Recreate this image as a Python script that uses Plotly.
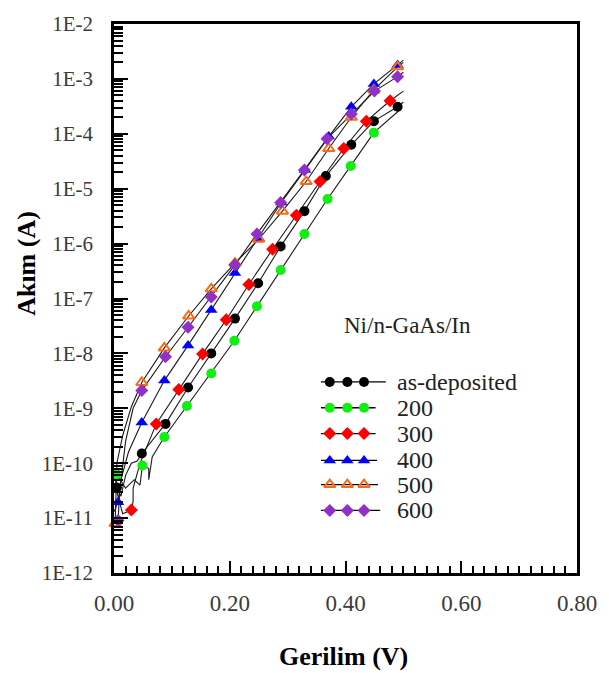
import plotly.graph_objects as go

# ---------------- data ----------------
series_names = ["as-deposited", "200", "300", "400", "500", "600"]

# marker points (V, A)
asdep_v = [0.005, 0.048, 0.089, 0.128, 0.168, 0.209, 0.249, 0.288, 0.329, 0.366, 0.410, 0.449, 0.490]
asdep_i = [3.6e-11, 1.5e-10, 5.2e-10, 2.4e-9, 1.0e-8, 4.3e-8, 1.9e-7, 8.9e-7, 3.9e-6, 1.7e-5, 6.3e-5, 1.7e-4, 3.1e-4]

t200_v = [0.005, 0.049, 0.087, 0.126, 0.168, 0.208, 0.247, 0.288, 0.329, 0.369, 0.409, 0.449]
t200_i = [6.3e-11, 9.1e-11, 3.0e-10, 1.1e-9, 4.3e-9, 1.7e-8, 7.2e-8, 3.3e-7, 1.5e-6, 6.5e-6, 2.6e-5, 1.05e-4]

t300_v = [0.030, 0.073, 0.112, 0.153, 0.194, 0.233, 0.274, 0.315, 0.356, 0.397, 0.436, 0.477]
t300_i = [1.4e-11, 5.2e-10, 2.2e-9, 9.8e-9, 4.1e-8, 1.8e-7, 7.9e-7, 3.3e-6, 1.35e-5, 5.4e-5, 1.7e-4, 4.0e-4]

t400_v = [0.007, 0.048, 0.087, 0.128, 0.168, 0.209, 0.250, 0.289, 0.330, 0.371, 0.410, 0.449, 0.490]
t400_i = [1.95e-11, 5.5e-10, 3.2e-9, 1.4e-8, 6.2e-8, 2.9e-7, 1.26e-6, 5.6e-6, 2.2e-5, 8.9e-5, 3.1e-4, 8.1e-4, 1.8e-3]

t500_v = [0.002, 0.048, 0.087, 0.129, 0.168, 0.209, 0.250, 0.291, 0.332, 0.371, 0.410, 0.449, 0.490]
t500_i = [8.0e-12, 2.95e-9, 1.26e-8, 4.8e-8, 1.5e-7, 4.4e-7, 1.2e-6, 3.9e-6, 1.35e-5, 5.4e-5, 2.0e-4, 6.3e-4, 1.66e-3]

t600_v = [0.007, 0.048, 0.089, 0.128, 0.168, 0.209, 0.247, 0.288, 0.329, 0.368, 0.410, 0.450, 0.490]
t600_i = [9.0e-12, 2.1e-9, 8.7e-9, 3.0e-8, 1.07e-7, 4.1e-7, 1.5e-6, 5.6e-6, 2.2e-5, 8.1e-5, 2.3e-4, 6.0e-4, 1.1e-3]

# extra line-only points (low-voltage noise and line ends)
asdep_line_low_v = [0.000, 0.012, 0.020, 0.030, 0.040]
asdep_line_low_i = [7.0e-11, 2.5e-11, 6.0e-11, 1.0e-10, 1.1e-10]
asdep_line_end_v = [0.500]
asdep_line_end_i = [3.8e-4]

t200_line_low_v = [0.020, 0.035, 0.045]
t200_line_low_i = [3.5e-11, 5.0e-11, 4.0e-11]
t200_line_mid_v = [0.060, 0.060, 0.066]
t200_line_mid_i = [8.0e-11, 5.0e-11, 1.3e-10]
t200_line_end_v = [0.495]
t200_line_end_i = [2.8e-4]

t300_line_low_v = [0.005, 0.015]
t300_line_low_i = [3.0e-11, 1.2e-11]
t300_line_mid_v = [0.033, 0.033, 0.045]
t300_line_mid_i = [2.0e-11, 3.5e-11, 1.0e-10]
t300_line_end_v = [0.500]
t300_line_end_i = [6.0e-4]

t400_line_low_v = [0.000, 0.012, 0.025]
t400_line_low_i = [1.3e-11, 5.0e-11, 1.6e-10]
t400_line_end_v = [0.500]
t400_line_end_i = [2.2e-3]

t500_line_low_v = [0.005, 0.015, 0.030]
t500_line_low_i = [1.0e-10, 3.2e-10, 1.07e-9]
t500_line_end_v = [0.500]
t500_line_end_i = [2.0e-3]

t600_line_low_v = [0.010, 0.020, 0.033]
t600_line_low_i = [3.2e-11, 2.5e-10, 1.0e-9]
t600_line_end_v = [0.500]
t600_line_end_i = [1.32e-3]

# axis ticks
x_tickvals = [0.0, 0.2, 0.4, 0.6, 0.8]
x_ticktext = ["0.00", "0.20", "0.40", "0.60", "0.80"]
y_exponents = list(range(-12, -1))
y_tickvals = [10.0 ** e for e in y_exponents]
y_ticktext = ["1E-%d" % (-e) for e in y_exponents]
y_minor = [k * 10.0 ** e for e in range(-12, -2) for k in range(2, 10)]

legend_title = "Ni/n-GaAs/In"

# ---------------- styles ----------------
FONT = "Liberation Serif, Times New Roman, serif"
styles = [
    dict(symbol="circle", color="#000000", size=10, line=dict(width=0)),
    dict(symbol="circle", color="#11EE11", size=10, line=dict(width=0)),
    dict(symbol="diamond", color="#FF0000", size=10, line=dict(width=0)),
    dict(symbol="triangle-up", color="#0000FF", size=11, line=dict(width=0)),
    dict(symbol="triangle-up-open", color="#FF6A10", size=10, line=dict(width=2, color="#FF6A10")),
    dict(symbol="diamond", color="#9030C8", size=10, line=dict(width=0)),
]

marker_sets = [
    (asdep_v, asdep_i), (t200_v, t200_i), (t300_v, t300_i),
    (t400_v, t400_i), (t500_v, t500_i), (t600_v, t600_i),
]


def merge(parts):
    pts = []
    for vs, ii in parts:
        pts.extend(zip(vs, ii))
    pts.sort(key=lambda p: p[0])
    return [p[0] for p in pts], [p[1] for p in pts]


line_sets = [
    merge([(asdep_line_low_v, asdep_line_low_i), (asdep_v, asdep_i), (asdep_line_end_v, asdep_line_end_i)]),
    merge([(t200_line_low_v, t200_line_low_i), (t200_v, t200_i), (t200_line_mid_v, t200_line_mid_i), (t200_line_end_v, t200_line_end_i)]),
    merge([(t300_line_low_v, t300_line_low_i), (t300_v, t300_i), (t300_line_mid_v, t300_line_mid_i), (t300_line_end_v, t300_line_end_i)]),
    merge([(t400_line_low_v, t400_line_low_i), (t400_v, t400_i), (t400_line_end_v, t400_line_end_i)]),
    merge([(t500_v[:1], t500_i[:1]), (t500_line_low_v, t500_line_low_i), (t500_v[1:], t500_i[1:]), (t500_line_end_v, t500_line_end_i)]),
    merge([(t600_v[:1], t600_i[:1]), (t600_line_low_v, t600_line_low_i), (t600_v[1:], t600_i[1:]), (t600_line_end_v, t600_line_end_i)]),
]

fig = go.Figure()

for (lv, li) in line_sets:
    fig.add_trace(go.Scatter(x=lv, y=li, mode="lines",
                             line=dict(color="#1a1a1a", width=1.1),
                             showlegend=False, hoverinfo="skip"))

for (mv, mi), st, name in zip(marker_sets, styles, series_names):
    fig.add_trace(go.Scatter(x=mv, y=mi, mode="markers", name=name,
                             marker=dict(symbol=st["symbol"], color=st["color"], size=st["size"],
                                         line=st["line"]),
                             cliponaxis=False, showlegend=False))

# ---------------- custom legend on a hidden overlay axis ----------------
leg_rows_y = [0.348, 0.301, 0.254, 0.205, 0.161, 0.114]
leg_mark_x = [0.466, 0.504, 0.540]
leg_line_x0 = 0.447
leg_line_x1 = [0.587, 0.565, 0.565, 0.568, 0.570, 0.575]
leg_text_x = 0.607

for k, (st, name) in enumerate(zip(styles, series_names)):
    yy = leg_rows_y[k]
    fig.add_trace(go.Scatter(x=[leg_line_x0, leg_line_x1[k]], y=[yy, yy], mode="lines",
                             line=dict(color="#000000", width=1.3),
                             xaxis="x2", yaxis="y2", showlegend=False, hoverinfo="skip"))
    fig.add_trace(go.Scatter(x=leg_mark_x, y=[yy] * 3, mode="markers",
                             marker=dict(symbol=st["symbol"], color=st["color"], size=st["size"],
                                         line=st["line"]),
                             xaxis="x2", yaxis="y2", showlegend=False, hoverinfo="skip"))
    fig.add_annotation(x=leg_text_x, y=yy, xref="paper", yref="paper", text=name,
                       showarrow=False, xanchor="left", yanchor="middle",
                       font=dict(family=FONT, size=24, color="#222222"))

fig.add_annotation(x=0.634, y=0.45, xref="paper", yref="paper", text=legend_title,
                   showarrow=False, xanchor="center", yanchor="middle",
                   font=dict(family=FONT, size=23, color="#222222"))

# axis titles
fig.add_annotation(x=-0.189, y=0.564, xref="paper", yref="paper", text="<b>Akım (A)</b>",
                   textangle=-90, showarrow=False, xanchor="center", yanchor="middle",
                   font=dict(family=FONT, size=26, color="#000000"))
fig.add_annotation(x=0.496, y=-0.152, xref="paper", yref="paper", text="<b>Gerilim (V)</b>",
                   showarrow=False, xanchor="center", yanchor="middle",
                   font=dict(family=FONT, size=26, color="#000000"))

fig.update_layout(
    width=609, height=673,
    margin=dict(l=114, r=25, t=22, b=100),
    paper_bgcolor="white", plot_bgcolor="white",
    font=dict(family=FONT, size=22, color="#333333"),
    showlegend=False,
    xaxis=dict(range=[0, 0.8], tickvals=x_tickvals, ticktext=x_ticktext,
               showgrid=False, zeroline=False, showline=True, linecolor="black", linewidth=2.5,
               mirror=True, ticks="inside", ticklen=12, tickwidth=2, tickcolor="black",
               ticklabelstandoff=8,
               minor=dict(dtick=0.02, ticks="inside", ticklen=7, tickwidth=1.6, tickcolor="black"),
               tickfont=dict(family=FONT, size=23, color="#3a3a3a")),
    yaxis=dict(type="log", range=[-12, -2], tickvals=y_tickvals, ticktext=y_ticktext,
               showgrid=False, zeroline=False, showline=True, linecolor="black", linewidth=2.5,
               mirror=True, ticks="inside", ticklen=14, tickwidth=2, tickcolor="black",
               ticklabelstandoff=14,
               minor=dict(tickvals=y_minor, ticks="inside", ticklen=9, tickwidth=1.8, tickcolor="black"),
               tickfont=dict(family=FONT, size=21, color="#3a3a3a")),
    xaxis2=dict(overlaying="x", range=[0, 1], visible=False, fixedrange=True),
    yaxis2=dict(overlaying="y", range=[0, 1], visible=False, fixedrange=True),
)

fig.write_html("out.html")
